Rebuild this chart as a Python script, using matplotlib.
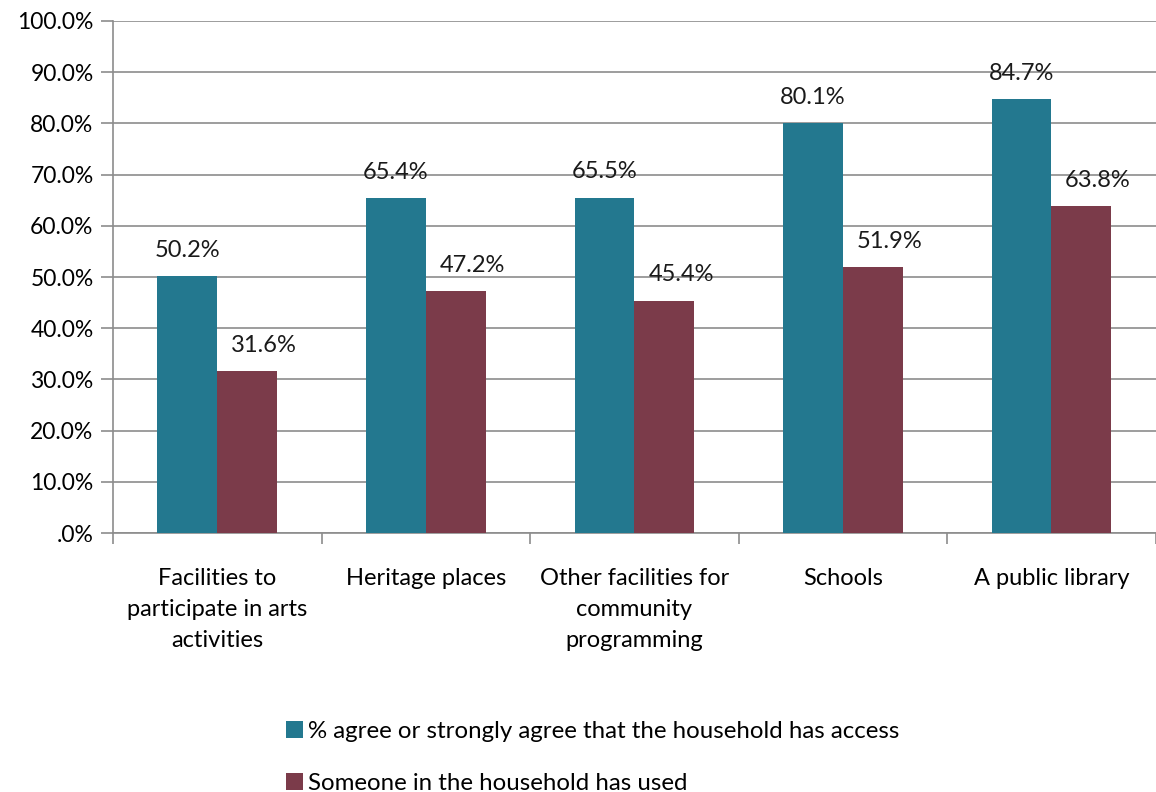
import numpy as np
import matplotlib.pyplot as plt
from matplotlib.ticker import FixedLocator, FuncFormatter

plt.rcParams['font.family'] = ['Lato', 'DejaVu Sans']

categories = ['Facilities to\nparticipate in arts\nactivities', 'Heritage places',
              'Other facilities for\ncommunity\nprogramming', 'Schools', 'A public library']
access = [50.2, 65.4, 65.5, 80.1, 84.7]
used = [31.6, 47.2, 45.4, 51.9, 63.8]
series = ['% agree or strongly agree that the household has access',
          'Someone in the household has used']

teal = '#23788f'
maroon = '#7b3b4a'
grey = '#8c8c8c'
fs = 17

fig = plt.figure(figsize=(11.56, 7.92), dpi=100)
ax = fig.add_axes([0.0978, 0.327, 0.902, 0.6465])

x = np.arange(len(categories))
w = 0.287
b1 = ax.bar(x - w/2, access, w, color=teal, label=series[0], zorder=3)
b2 = ax.bar(x + w/2, used, w, color=maroon, label=series[1], zorder=3)

# value labels; the second series sits a little to the right of its bars
for bars, vals, dx in ((b1, access, 0.0), (b2, used, 0.08)):
    for r, v in zip(bars, vals):
        ax.text(r.get_x() + r.get_width()/2 + dx, v + 3.0, '%.1f%%' % v,
                ha='center', va='bottom', fontsize=fs, color='#1a1a1a')

ax.set_xlim(-0.5, len(categories) - 0.5)
ax.set_ylim(0, 100)
ax.set_yticks(np.arange(0, 101, 10))
ax.yaxis.set_major_formatter(FuncFormatter(lambda v, p: '.0%' if v == 0 else '%.1f%%' % v))
ax.yaxis.grid(True, color=grey, lw=1.2, zorder=0)

ax.set_xticks(x)
ax.set_xticklabels(categories, fontsize=fs, linespacing=1.6)
ax.xaxis.set_minor_locator(FixedLocator(np.arange(-0.5, len(categories), 1.0)))
ax.tick_params(axis='x', which='major', length=0, pad=25)
ax.tick_params(axis='x', which='minor', length=8, color=grey, width=1.2)
ax.tick_params(axis='y', length=9, color=grey, width=1.2, labelsize=fs - 0.5, pad=5)

for s in ('top', 'right'):
    ax.spines[s].set_visible(False)
for s in ('left', 'bottom'):
    ax.spines[s].set_color(grey)
    ax.spines[s].set_linewidth(1.2)

fig.legend(handles=[b1, b2], loc='lower left', bbox_to_anchor=(0.229, -0.03),
           frameon=False, fontsize=fs + 0.3, handlelength=0.7, handleheight=0.7,
           handletextpad=0.2, labelspacing=1.3)

fig.savefig('out.png', dpi=100)
